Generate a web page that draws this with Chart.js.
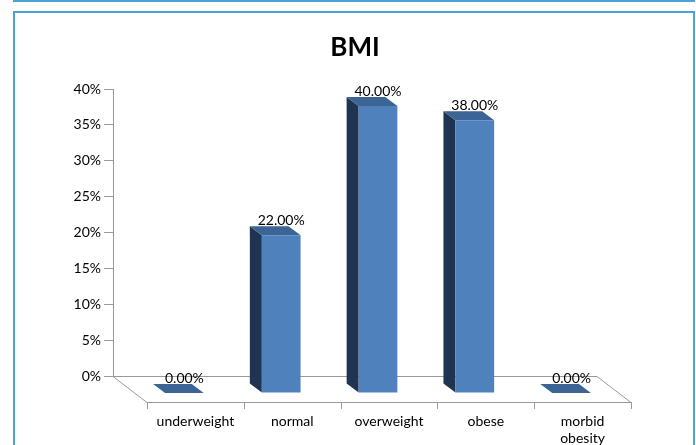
<!DOCTYPE html>
<html>
<head>
<meta charset="utf-8">
<script src="https://cdn.jsdelivr.net/npm/chart.js@4.4.1/dist/chart.umd.min.js"></script>
<style>
    html, body { margin: 0; padding: 0; background: #fff; }
    #wrap { position: relative; width: 696px; height: 445px; overflow: hidden; }
    .box { position: absolute; box-sizing: border-box; border: 2px solid #4aa3d4; }
    #boxTop { left: 13px; top: -20px; width: 682px; height: 22px; }
    #boxChart { left: 13px; top: 11px; width: 682px; height: 460px; }
    #myChart { position: absolute; left: 0; top: 0; }
</style>
</head>
<body>
<div id="wrap">
    <div class="box" id="boxTop"></div>
    <div class="box" id="boxChart"></div>
    <canvas id="myChart" width="696" height="445"></canvas>
</div>
<script>
// chart data
var categories = ['underweight', 'normal', 'overweight', 'obese', ['morbid', 'obesity']];
var bmiValues = [0, 22, 40, 38, 0];
var yTicks = [0, 5, 10, 15, 20, 25, 30, 35, 40];

// fake 3d: front face is pushed forward from the back wall, sides go back
var FRONT_DX = 23, FRONT_DY = 17;
var SIDE_DX = -12, SIDE_DY = -9;
var FLOOR_DX = 34, FLOOR_DY = 26;

var frontColor = '#4f81bd';
var sideColor = '#1f3451';
var topColor = '#3c6595';

function poly(ctx, pts, fill) {
    ctx.beginPath();
    ctx.moveTo(pts[0][0], pts[0][1]);
    for (var i = 1; i < pts.length; i++) {
        ctx.lineTo(pts[i][0], pts[i][1]);
    }
    ctx.closePath();
    ctx.fillStyle = fill;
    ctx.fill();
}

const depthPlugin = {
    id: 'depth',
    beforeDatasetsDraw(chart) {
        var ctx = chart.ctx;
        var area = chart.chartArea;
        var x = chart.scales.x;
        var step = (area.right - area.left) / categories.length;

        // floor
        ctx.save();
        ctx.strokeStyle = '#9a9a9a';
        ctx.lineWidth = 1;
        ctx.beginPath();
        ctx.moveTo(area.left, area.bottom + 0.5);
        ctx.lineTo(area.right, area.bottom + 0.5);
        ctx.lineTo(area.right + FLOOR_DX, area.bottom + FLOOR_DY + 0.5);
        ctx.lineTo(area.left + FLOOR_DX, area.bottom + FLOOR_DY + 0.5);
        ctx.closePath();
        ctx.stroke();
        for (var i = 0; i <= categories.length; i++) {
            var tx = Math.round(x.getPixelForTick(Math.min(i, categories.length - 1)) + (i < categories.length ? -step / 2 : step / 2) + FLOOR_DX) + 0.5;
            ctx.beginPath();
            ctx.moveTo(tx, area.bottom + FLOOR_DY);
            ctx.lineTo(tx, area.bottom + FLOOR_DY + 7);
            ctx.stroke();
        }
        ctx.restore();

        // sides and tops
        var meta = chart.getDatasetMeta(0);
        meta.data.forEach(function (bar) {
            var hw = bar.width / 2;
            var l = bar.x - hw + FRONT_DX, r = bar.x + hw + FRONT_DX;
            var top = bar.y + FRONT_DY, base = bar.base + FRONT_DY;
            poly(ctx, [[l, top], [l + SIDE_DX, top + SIDE_DY], [l + SIDE_DX, base + SIDE_DY], [l, base]], sideColor);
            poly(ctx, [[l, top], [r, top], [r + SIDE_DX, top + SIDE_DY], [l + SIDE_DX, top + SIDE_DY]], topColor);
        });

        ctx.save();
        ctx.translate(FRONT_DX, FRONT_DY);
    },
    afterDatasetsDraw(chart) {
        var ctx = chart.ctx;
        ctx.restore();

        var meta = chart.getDatasetMeta(0);
        ctx.save();
        ctx.font = '14px Lato';
        ctx.fillStyle = '#000';
        ctx.textAlign = 'center';
        ctx.textBaseline = 'middle';
        meta.data.forEach(function (bar, i) {
            ctx.fillText(bmiValues[i].toFixed(2) + '%', bar.x + FRONT_DX, bar.y + FRONT_DY - 15);
        });
        ctx.restore();
    }
};

const data = {
    labels: categories,
    datasets: [{
        label: 'BMI',
        data: bmiValues,
        backgroundColor: frontColor,
        borderWidth: 0,
        barPercentage: 0.4,
        categoryPercentage: 1,
        clip: false
    }]
};

const config = {
    type: 'bar',
    data: data,
    options: {
        responsive: false,
        animation: false,
        layout: { padding: { left: 0, right: 99, top: 0, bottom: 0 } },
        plugins: {
            legend: { display: false },
            tooltip: { enabled: false },
            title: {
                display: true,
                fullSize: false,
                text: 'BMI',
                color: '#000',
                font: { family: 'Lato', size: 26, weight: 'bold' },
                padding: { top: 32, bottom: 25.8 }
            }
        },
        scales: {
            x: {
                grid: { display: false, drawTicks: false },
                border: { display: false },
                ticks: {
                    color: '#000',
                    font: { family: 'Lato', size: 14 },
                    labelOffset: FLOOR_DX,
                    padding: 37,
                    maxRotation: 0,
                    autoSkip: false
                },
                afterFit: function (scale) { scale.height = 69; }
            },
            y: {
                min: 0,
                max: 40,
                afterBuildTicks: function (scale) {
                    scale.ticks = yTicks.map(function (v) { return { value: v }; });
                },
                grid: { drawOnChartArea: false, drawTicks: true, tickLength: 9, color: '#9a9a9a' },
                border: { display: true, color: '#9a9a9a' },
                ticks: {
                    color: '#000',
                    font: { family: 'Lato', size: 14 },
                    padding: 3,
                    callback: function (v) { return v + '%'; }
                },
                afterFit: function (scale) { scale.width = 113; }
            }
        }
    },
    plugins: [depthPlugin]
};

var myChart = new Chart(document.getElementById('myChart'), config);
</script>
</body>
</html>
